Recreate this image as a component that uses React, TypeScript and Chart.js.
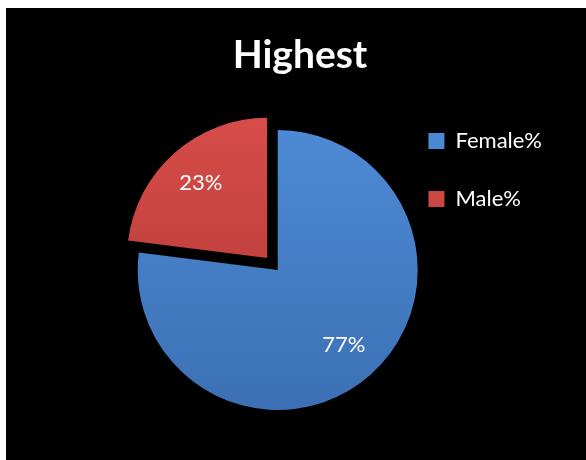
import React, { useEffect, useRef } from "react";
import { Chart, registerables } from "chart.js";

Chart.register(...registerables);

const TITLE = "Highest";
const CATEGORIES = ["Female%", "Male%"];
const VALUES = [77, 23];
const BASE_COLORS = ["#4580C8", "#C8423E"];
const COLORS_TOP = ["#4D8AD5", "#D64C48"];
const COLORS_BOTTOM = ["#3C70B4", "#B03835"];
const EXPLODE = [0, 64];
const RADIUS = 140;

const FONT = "Lato, 'Open Sans', 'DejaVu Sans', sans-serif";

const sliceLabels = {
  id: "sliceLabels",
  afterDatasetsDraw(chart: any) {
    const ctx = chart.ctx;
    const meta = chart.getDatasetMeta(0);
    const data = chart.data.datasets[0].data as number[];
    ctx.save();
    ctx.fillStyle = "#ffffff";
    ctx.font = `22px ${FONT}`;
    ctx.textAlign = "center";
    ctx.textBaseline = "middle";
    meta.data.forEach((arc: any, i: number) => {
      const p = arc.getProps(["x", "y", "startAngle", "endAngle", "outerRadius", "circumference"], true);
      const mid = (p.startAngle + p.endAngle) / 2;
      const off = (arc.options.offset || 0) / 4;
      const fix = 1 - Math.sin(Math.min(Math.PI, p.circumference || 0));
      const shift = off + off * fix;
      const r = shift + p.outerRadius * 0.715;
      ctx.fillText(`${data[i]}%`, p.x + Math.cos(mid) * r, p.y + Math.sin(mid) * r);
    });
    ctx.restore();
  },
};

// Chart title, centred over the whole panel (not over the pie's area)
const panelTitle = {
  id: "panelTitle",
  afterDraw(chart: any) {
    const ctx = chart.ctx;
    ctx.save();
    ctx.fillStyle = "#ffffff";
    ctx.font = `bold 39px ${FONT}`;
    ctx.textAlign = "center";
    ctx.textBaseline = "middle";
    ctx.fillText(TITLE, 294, 47);
    ctx.restore();
  },
};

export default function App() {
  const ref = useRef<HTMLCanvasElement>(null);
  useEffect(() => {
    if (!ref.current) return;
    const chart = new Chart(ref.current, {
      type: "pie",
      data: {
        labels: CATEGORIES,
        datasets: [
          {
            data: VALUES,
            backgroundColor: (c: any) => {
              const i = c.dataIndex;
              const area = c.chart.chartArea;
              if (!area || c.type !== "data") return BASE_COLORS[i];
              const cy = (area.top + area.bottom) / 2;
              const g = c.chart.ctx.createLinearGradient(0, cy - RADIUS, 0, cy + RADIUS);
              g.addColorStop(0, COLORS_TOP[i]);
              g.addColorStop(1, COLORS_BOTTOM[i]);
              return g;
            },
            borderWidth: 0,
            offset: EXPLODE,
          } as any,
        ],
      },
      options: {
        responsive: false,
        animation: false,
        events: [],
        radius: RADIUS,
        layout: { padding: { left: 157, right: 34, top: 86, bottom: 14 } },
        plugins: {
          title: { display: false, text: TITLE },
          legend: {
            display: true,
            position: "right",
            align: "start",
            fullSize: false,
            labels: {
              color: "#ffffff",
              font: { family: FONT, size: 22 },
              boxWidth: 16,
              boxHeight: 16,
              padding: 36,
            },
          },
          tooltip: { enabled: false },
        },
      } as any,
      plugins: [sliceLabels, panelTitle],
    });
    return () => chart.destroy();
  }, []);
  return (
    <div
      style={{
        position: "fixed",
        left: 6,
        top: 8,
        width: 580,
        height: 452,
        background: "#000000",
      }}
    >
      <canvas ref={ref} width={580} height={452} style={{ display: "block" }} />
    </div>
  );
}
